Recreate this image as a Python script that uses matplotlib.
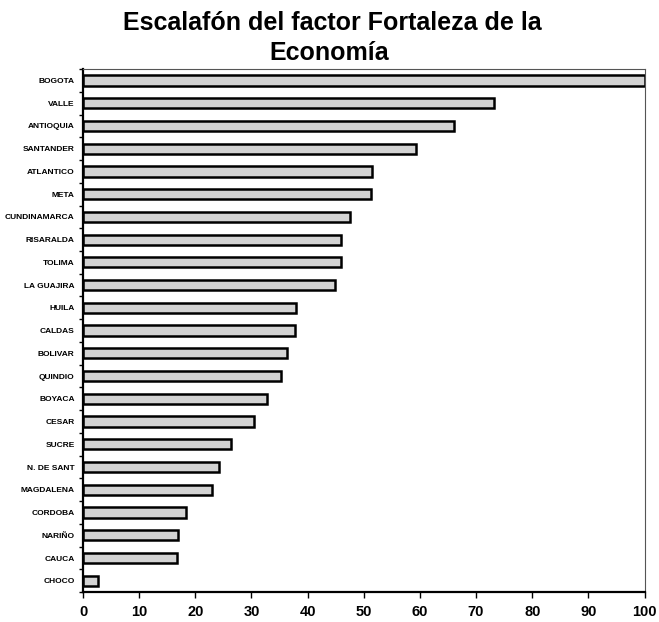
import numpy as np
import matplotlib.pyplot as plt

# data, top to bottom
departamentos = ["BOGOTA", "VALLE", "ANTIOQUIA", "SANTANDER", "ATLANTICO", "META",
                 "CUNDINAMARCA", "RISARALDA", "TOLIMA", "LA GUAJIRA", "HUILA", "CALDAS",
                 "BOLIVAR", "QUINDIO", "BOYACA", "CESAR", "SUCRE", "N. DE SANT",
                 "MAGDALENA", "CORDOBA", "NARIÑO", "CAUCA", "CHOCO"]
valores = [100, 73.2, 66.1, 59.3, 51.5, 51.3, 47.6, 46.0, 45.9, 44.8, 37.9, 37.8,
           36.4, 35.3, 32.7, 30.5, 26.4, 24.3, 23.0, 18.3, 17.0, 16.7, 2.7]
xticks = list(range(0, 101, 10))

plt.rcParams['font.family'] = ['Liberation Sans', 'DejaVu Sans']

fig = plt.figure(figsize=(6.59, 6.22), dpi=100)
ax = fig.add_axes([0.126, 0.048, 0.852, 0.841])

y = np.arange(len(departamentos))
ax.barh(y, valores, height=0.45, color="#d3d3d3", edgecolor="black", linewidth=1.8)

ax.set_xlim(0, 100)
ax.set_ylim(len(departamentos) - 0.5, -0.5)
ax.set_xticks(xticks)
ax.set_xticklabels([str(t) for t in xticks], fontsize=10.5, fontweight="bold")
ax.set_yticks(y)
ax.set_yticklabels(departamentos, fontsize=6, fontweight="bold")
ax.tick_params(axis="y", length=0, pad=6)
ax.set_yticks(np.arange(-0.5, len(departamentos), 1), minor=True)
ax.tick_params(axis="y", which="minor", length=3, width=1, direction="out")
ax.tick_params(axis="x", length=4, width=1, direction="out", pad=5)

for s in ["left", "bottom"]:
    ax.spines[s].set_linewidth(1.6)
for s in ["top", "right"]:
    ax.spines[s].set_linewidth(0.8)
    ax.spines[s].set_color("#555555")

fig.text(0.505, 0.963, "Escalafón del factor Fortaleza de la", ha="center", va="center",
         fontsize=18, fontweight="bold")
fig.text(0.5, 0.914, "Economía", ha="center", va="center",
         fontsize=18, fontweight="bold")

fig.savefig("out.png", dpi=100)
